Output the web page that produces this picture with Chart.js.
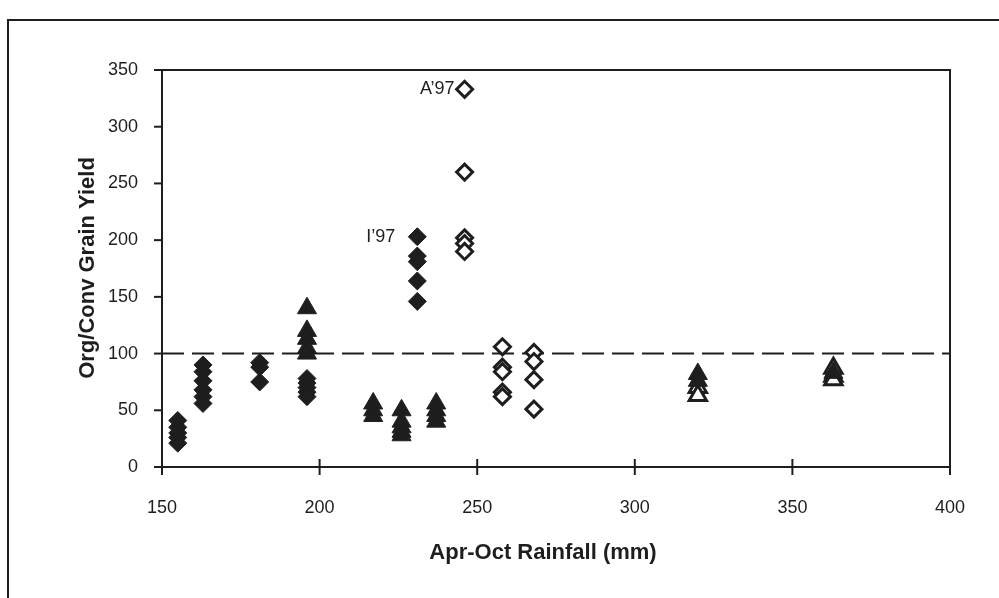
<!DOCTYPE html>
<html>
<head>
<meta charset="utf-8">
<script src="https://cdn.jsdelivr.net/npm/chart.js@4.4.1/dist/chart.umd.min.js"></script>
<style>
  html, body { margin: 0; padding: 0; background: #fff; }
  canvas { display: block; }
</style>
</head>
<body>
<canvas id="chart" width="999" height="598"></canvas>
<script>
// rainfall (mm) and organic/conventional yield (%) for each marker group
const filledDiamondRain = [155, 155, 155, 155, 155, 163, 163, 163, 163, 163, 163, 181, 181, 181, 196, 196, 196, 196, 196, 231, 231, 231, 231, 231];
const filledDiamondYield = [41, 35, 30, 26, 21, 90, 84, 76, 68, 62, 56, 92, 88, 75, 78, 74, 70, 66, 62, 203, 186, 181, 164, 146];

const openDiamondRain = [246, 246, 246, 246, 246, 258, 258, 258, 258, 258, 268, 268, 268, 268];
const openDiamondYield = [333, 260, 202, 197, 190, 106, 88, 84, 66, 62, 101, 93, 77, 51];

const filledTriangleRain = [196, 196, 196, 196, 196, 217, 217, 217, 226, 226, 226, 226, 226, 237, 237, 237, 237, 320, 320, 363];
const filledTriangleYield = [140, 120, 113, 105, 100, 56, 50, 45, 50, 40, 35, 31, 28, 56, 50, 45, 40, 82, 76, 83];

const openTriangleRain = [320, 320, 363, 363, 363];
const openTriangleYield = [70, 63, 87, 80, 77];

const parityLine = [100, 100];
const xTicks = [150, 200, 250, 300, 350, 400];
const yTicks = [0, 50, 100, 150, 200, 250, 300, 350];

// labelled points: [rainfall, yield, text, gap left of marker]
const pointNotes = [
    [246, 333, 'A\u201997', 10],
    [231, 203, 'I\u201997', 22]
];

const ink = '#1e1e1e';
const FONT = '"Liberation Sans", Arial, sans-serif';

function pairs(xs, ys) {
    return xs.map((x, i) => ({ x: x, y: ys[i] }));
}

// box round the plot, outer frame, tick marks, axis titles and the two notes
const decorations = {
    id: 'decorations',
    afterDraw(chart) {
        const ctx = chart.ctx;
        const a = chart.chartArea;
        const xs = chart.scales.x;
        const ys = chart.scales.y;
        ctx.save();
        ctx.strokeStyle = ink;
        ctx.lineWidth = 2;
        // outer frame (left and top only)
        ctx.beginPath();
        ctx.moveTo(8, 598);
        ctx.lineTo(8, 20);
        ctx.lineTo(999, 20);
        ctx.stroke();
        // plot box
        ctx.strokeRect(a.left, a.top, a.right - a.left, a.bottom - a.top);
        // x ticks cross the axis
        xTicks.forEach(v => {
            const px = xs.getPixelForValue(v);
            ctx.beginPath();
            ctx.moveTo(px, a.bottom - 8);
            ctx.lineTo(px, a.bottom + 8);
            ctx.stroke();
        });
        // y ticks sit outside
        yTicks.forEach(v => {
            const py = ys.getPixelForValue(v);
            ctx.beginPath();
            ctx.moveTo(a.left - 8, py);
            ctx.lineTo(a.left, py);
            ctx.stroke();
        });
        ctx.fillStyle = ink;
        ctx.textBaseline = 'middle';

        // axis titles
        ctx.font = 'bold 22px ' + FONT;
        ctx.textAlign = 'center';
        ctx.fillText('Apr-Oct Rainfall (mm)', 543, 553);
        ctx.save();
        ctx.translate(88, 268);
        ctx.rotate(-Math.PI / 2);
        ctx.fillText('Org/Conv Grain Yield', 0, 0);
        ctx.restore();

        ctx.font = '18px ' + FONT;
        ctx.textAlign = 'right';
        pointNotes.forEach(n => {
            ctx.fillText(n[2], xs.getPixelForValue(n[0]) - n[3], ys.getPixelForValue(n[1]));
        });
        ctx.restore();
    }
};

new Chart(document.getElementById('chart'), {
    type: 'scatter',
    data: {
        datasets: [
            {
                type: 'line',
                data: pairs([150, 400], parityLine),
                borderColor: ink,
                borderWidth: 2,
                borderDash: [22, 8],
                pointRadius: 0,
                fill: false,
                order: 5
            },
            {
                data: pairs(filledDiamondRain, filledDiamondYield),
                pointStyle: 'rectRot',
                pointRadius: 9,
                backgroundColor: ink,
                borderColor: ink,
                borderWidth: 1
            },
            {
                data: pairs(openDiamondRain, openDiamondYield),
                pointStyle: 'rectRot',
                pointRadius: 8,
                backgroundColor: '#fff',
                borderColor: ink,
                borderWidth: 3
            },
            {
                data: pairs(filledTriangleRain, filledTriangleYield),
                pointStyle: 'triangle',
                pointRadius: 11,
                backgroundColor: ink,
                borderColor: ink,
                borderWidth: 1
            },
            {
                data: pairs(openTriangleRain, openTriangleYield),
                pointStyle: 'triangle',
                pointRadius: 10,
                backgroundColor: '#fff',
                borderColor: ink,
                borderWidth: 3
            }
        ]
    },
    options: {
        responsive: false,
        animation: false,
        devicePixelRatio: 1,
        layout: { padding: { top: 70, right: 49, left: 0, bottom: 0 } },
        plugins: {
            legend: { display: false },
            tooltip: { enabled: false }
        },
        scales: {
            x: {
                type: 'linear',
                min: 150,
                max: 400,
                afterFit: s => { s.height = 598 - 467; },
                afterBuildTicks: s => { s.ticks = xTicks.map(v => ({ value: v })); },
                grid: { display: false },
                border: { display: false },
                ticks: {
                    color: ink,
                    padding: 22,
                    font: { family: FONT, size: 18 }
                }
            },
            y: {
                type: 'linear',
                min: 0,
                max: 350,
                afterFit: s => { s.width = 162; },
                afterBuildTicks: s => { s.ticks = yTicks.map(v => ({ value: v })); },
                grid: { display: false },
                border: { display: false },
                ticks: {
                    color: ink,
                    padding: 16,
                    font: { family: FONT, size: 18 }
                }
            }
        }
    },
    plugins: [decorations]
});
</script>
</body>
</html>
